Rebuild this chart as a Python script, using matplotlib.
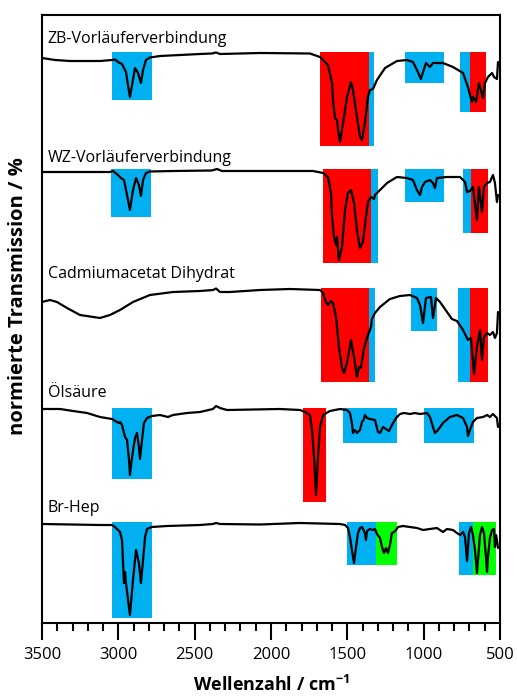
import matplotlib
matplotlib.use('Agg')
import matplotlib.pyplot as plt
from matplotlib.patches import Rectangle

plt.rcParams['font.family'] = ['Open Sans', 'DejaVu Sans']
plt.rcParams['mathtext.fontset'] = 'custom'
plt.rcParams['mathtext.rm'] = 'Open Sans'
plt.rcParams['mathtext.bf'] = 'Open Sans:bold'

# IR-Spektren (Wellenzahl in cm^-1, Transmission in willk. Einheiten)
names = ['ZB-Vorläuferverbindung', 'WZ-Vorläuferverbindung', 'Cadmiumacetat Dihydrat', 'Ölsäure', 'Br-Hep']

wn_zb = [3500, 3415, 3317, 3120, 3041, 3022, 3002, 2976, 2950, 2937, 2924, 2910, 2891, 2871, 2852,
         2838, 2819, 2793, 2727, 2465, 2387, 2360, 2334, 2072, 1745, 1679, 1627, 1600, 1594, 1581,
         1568, 1561, 1548, 1528, 1502, 1476, 1463, 1437, 1417, 1404, 1385, 1365, 1352, 1332, 1306,
         1253, 1175, 1109, 1070, 1044, 1018, 1004, 985, 959, 939, 874, 808, 742, 710, 684,
         677, 657, 638, 611, 598, 579, 552, 539, 520, 513]
t_zb = [0, -2, -3, -3, -2, -1.5, -4, -6, -14, -27, -39, -27, -10, -15, -25,
        -12, -2, 0.5, 2, 4, 4.5, 5.5, 4, 5, 4.5, 1, -7, -25, -42, -60,
        -62, -72, -84, -65, -39, -24, -32, -59, -79, -82, -65, -39, -32, -31, -22,
        -10, -3, -2, -4, -12, -21, -14, -5, -9, -5, -5, -9, -15, -29, -44,
        -39, -44, -25, -40, -25, -19, -15, -19, -21, -4]

wn_wz = [3500, 3055, 3035, 3002, 2983, 2963, 2943, 2924, 2904, 2884, 2865, 2852, 2838, 2819, 2793,
         2642, 2387, 2354, 2321, 2072, 1725, 1659, 1627, 1607, 1600, 1587, 1574, 1568, 1555, 1535,
         1515, 1496, 1476, 1456, 1437, 1417, 1398, 1378, 1365, 1345, 1325, 1319, 1286, 1240, 1175,
         1109, 1070, 1044, 1024, 1011, 991, 959, 939, 926, 913, 847, 762, 729, 716, 697,
         677, 651, 638, 618, 605, 585, 566, 546, 533, 520, 513]
t_wz = [0, 0, 1, -3, -6, -8, -23, -38, -18, -6, -13, -24, -8, -1, 0.5,
        1, 1.5, 3, 1, 1, 1, -1, -5, -21, -45, -65, -73, -65, -88, -75,
        -38, -21, -18, -31, -58, -76, -70, -45, -30, -25, -27, -23, -18, -11, -5,
        -6, -8, -18, -23, -15, -10, -8, -11, -16, -6, -5, -5, -10, -20, -19,
        -15, -48, -15, -40, -15, -11, -10, -3, -11, -30, -23]

wn_cd = [3500, 3448, 3402, 3336, 3251, 3120, 3055, 2989, 2904, 2793, 2642, 2465, 2380, 2360, 2334,
         2269, 2072, 1876, 1679, 1659, 1640, 1627, 1607, 1594, 1574, 1555, 1535, 1522, 1502, 1476,
         1456, 1437, 1424, 1411, 1391, 1365, 1345, 1339, 1319, 1286, 1221, 1155, 1090, 1044, 1024,
         1004, 985, 952, 939, 919, 893, 847, 815, 782, 742, 710, 690, 670, 651, 631,
         618, 605, 585, 566, 546, 533, 520, 513]
t_cd = [0, 2, 0, -6, -13, -16, -13, -8, 0, 7, 10, 11, 12, 13.5, 10,
        10, 12, 13, 12, 9, 0, -3, 1, -1, -15, -45, -66, -71, -61, -38,
        -55, -75, -65, -66, -46, -33, -25, -17, -11, -5, 3, 6, 7, 4, -3,
        -21, 4, 5, -16, 4, 0, -10, -17, -19, -28, -38, -36, -72, -45, -28,
        -58, -35, -31, -33, -30, -36, -31, -10]

wn_ol = [3500, 3382, 3297, 3205, 3120, 3041, 3009, 2996, 2989, 2976, 2956, 2943, 2930, 2924, 2910,
         2891, 2878, 2865, 2858, 2845, 2832, 2812, 2780, 2727, 2675, 2642, 2550, 2465, 2380, 2360,
         2334, 2288, 1941, 1810, 1777, 1745, 1731, 1718, 1705, 1692, 1679, 1659, 1614, 1548, 1502,
         1483, 1470, 1463, 1450, 1437, 1417, 1404, 1391, 1385, 1371, 1352, 1319, 1299, 1286, 1266,
         1247, 1227, 1201, 1175, 1155, 1129, 1090, 1057, 1024, 978, 959, 939, 926, 906, 874,
         828, 782, 742, 716, 710, 697, 677, 651, 611, 585, 566, 546, 520, 513]
t_ol = [0, 0, -2, -4, -8, -10, -13, -14, -13, -16, -28, -31, -51, -66, -48,
        -29, -24, -38, -50, -31, -14, -9, -7, -6, -8, -6, -4, -3, 0, 3,
        1, -1, 0, -1, -3, -6, -21, -48, -86, -48, -18, -6, -2, 0, -1,
        -4, -14, -24, -21, -24, -21, -13, -10, -6, -9, -10, -11, -23, -24, -18,
        -20, -22, -14, -8, -5, -4, -5, -4, -5, -4, -8, -18, -24, -21, -14,
        -8, -6, -9, -18, -27, -21, -13, -9, -8, -6, -8, -5, -9, -18]

wn_br = [3500, 3120, 3041, 3022, 3002, 2989, 2976, 2970, 2963, 2956, 2950, 2924, 2904, 2884, 2865,
         2852, 2838, 2825, 2812, 2780, 2681, 2465, 2380, 2360, 2334, 2072, 1810, 1548, 1515, 1496,
         1483, 1470, 1456, 1443, 1430, 1417, 1404, 1385, 1378, 1371, 1352, 1332, 1319, 1306, 1286,
         1273, 1260, 1247, 1234, 1221, 1208, 1194, 1181, 1168, 1136, 1090, 1044, 1004, 959, 913,
         874, 847, 808, 782, 762, 742, 729, 716, 703, 690, 677, 664, 651, 644, 631,
         618, 605, 592, 585, 579, 566, 552, 539, 533, 526, 520, 513]
t_br = [0, -1, -1, -3, -6, -8, -16, -36, -59, -48, -59, -91, -56, -26, -39,
        -59, -36, -13, -5, -3, -2, -1, 0, 1, 0, -0.5, 1, 0, -1, -4,
        -13, -26, -39, -23, -9, -4, -3, -9, -16, -7, -5, -6, -5, -10, -14,
        -23, -29, -24, -29, -21, -9, -8, -6, -3, -2, -3, -4, -6, -5, -4,
        -8, -5, -6, -9, -11, -8, -13, -37, -9, -3, -11, -26, -49, -36, -11,
        -3, -9, -33, -48, -33, -14, -6, -5, -23, -11, -16, -24]

# markierte Banden: (von, bis, oben, unten, Gruppe)
bands_zb = [(3041, 2780, 6, -42, 'b'), (1679, 1358, 6, -88, 'r'), (1358, 1325, 6, -88, 'b'),
            (1122, 867, 6, -25, 'b'), (762, 697, 6, -54, 'b'), (697, 592, 6, -54, 'r')]
bands_wz = [(3048, 2786, 3, -45, 'b'), (1659, 1345, 3, -91, 'r'), (1345, 1299, 3, -91, 'b'),
            (1122, 867, 3, -30, 'b'), (742, 690, 3, -61, 'b'), (690, 579, 3, -61, 'r')]
bands_cd = [(1672, 1358, 14, -80, 'r'), (1358, 1319, 14, -80, 'b'), (1083, 913, 14, -29, 'b'),
            (775, 697, 14, -80, 'b'), (697, 579, 14, -80, 'r')]
bands_ol = [(3041, 2780, 1, -70, 'b'), (1790, 1640, 1, -93, 'r'), (1528, 1175, 1, -34, 'b'),
            (998, 670, 1, -34, 'b')]
bands_br = [(3041, 2780, 2, -94, 'b'), (1502, 1312, 2, -41, 'b'), (1312, 1175, 2, -41, 'g'),
            (769, 677, 2, -51, 'b'), (677, 526, 2, -51, 'g')]

spectra = [(wn_zb, t_zb, bands_zb), (wn_wz, t_wz, bands_wz), (wn_cd, t_cd, bands_cd),
           (wn_ol, t_ol, bands_ol), (wn_br, t_br, bands_br)]
offsets = [565, 451, 321, 214, 99]
label_dy = [19, 14, 28, 16, 16]
farben = {'b': '#00B0F0', 'r': '#FF0000', 'g': '#00FF00'}

fig = plt.figure(figsize=(5.17, 6.97), dpi=100)
ax = fig.add_axes([42/517, 74/697, 458/517, 608/697])

for (wn, t, bands), off, name, dy in zip(spectra, offsets, names, label_dy):
    for hi, lo, top, bot, g in bands:
        ax.add_patch(Rectangle((lo, off + bot), hi - lo, top - bot, facecolor=farben[g],
                               edgecolor='none', zorder=1))
    ax.plot(wn, [off + v for v in t], color='black', lw=1.6, zorder=2,
            solid_joinstyle='round', solid_capstyle='round')
    ax.text(3462, off + dy, name, fontsize=11.5, va='center', ha='left')

ax.set_xlim(3500, 500)
ax.set_ylim(0, 608)
ax.set_xticks(range(3500, 499, -500))
ax.set_xticks(range(3500, 499, -100), minor=True)
ax.set_yticks([])
ax.tick_params(axis='x', which='major', length=12, width=1.5, direction='out', labelsize=12, pad=5)
ax.tick_params(axis='x', which='minor', length=6, width=1.5, direction='out')
for s in ax.spines.values():
    s.set_linewidth(1.5)

fig.text(271/517, 12/697, r'Wellenzahl / cm$^{\mathbf{-1}}$', ha='center', va='center',
         fontsize=13, fontweight='bold')
fig.text(18/517, 1 - 296/697, 'normierte Transmission / %', ha='center', va='center',
         rotation=90, fontsize=14.5, fontweight='bold')

fig.savefig('out.png', dpi=100)
